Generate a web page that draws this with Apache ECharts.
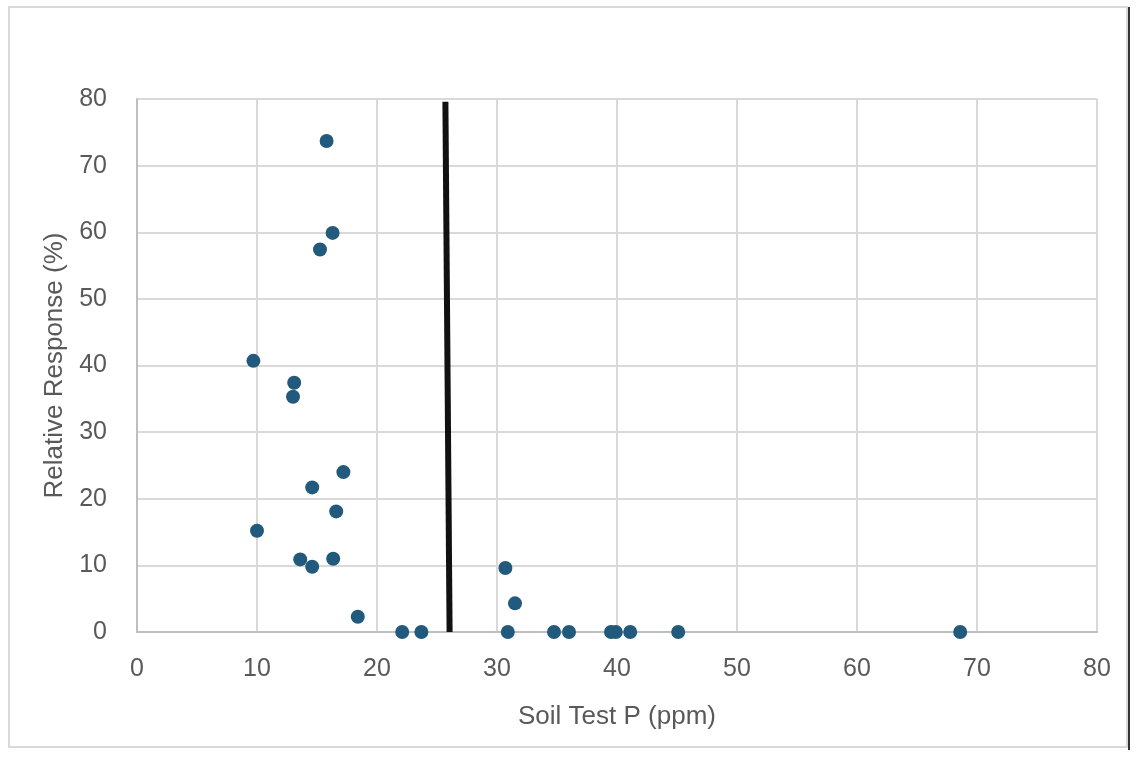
<!DOCTYPE html>
<html>
<head>
<meta charset="utf-8">
<script src="https://cdn.jsdelivr.net/npm/echarts@6/dist/echarts.min.js"></script>
<style>
  html, body { margin: 0; padding: 0; background: #fff; }
  #chart { width: 1140px; height: 759px; }
</style>
</head>
<body>
<div id="chart"></div>
<script>
// soil test P (ppm) vs relative response (%)
var soilP = [15.8, 16.3, 15.25, 9.7, 13.1, 13.0, 17.2, 14.6, 16.6, 10.0, 13.6, 14.6, 16.35, 18.4,
             22.1, 23.7, 30.7, 31.5, 30.9, 34.75, 36.0, 39.5, 39.9, 41.1, 45.1, 68.6];
var relResp = [73.7, 59.9, 57.4, 40.7, 37.4, 35.3, 24.0, 21.7, 18.1, 15.2, 10.9, 9.8, 11.0, 2.3,
               0, 0, 9.6, 4.3, 0, 0, 0, 0, 0, 0, 0, 0];

// critical level line (drawn by hand, slight lean)
var cutoffX = [25.7, 26.05];
var cutoffY = [79.6, 0];

var axisTicks = [0, 10, 20, 30, 40, 50, 60, 70, 80];

var points = [];
for (var i = 0; i < soilP.length; i++) {
    points.push([soilP[i], relResp[i]]);
}
var cutoff = [];
for (var j = 0; j < cutoffX.length; j++) {
    cutoff.push([cutoffX[j], cutoffY[j]]);
}

var chart = echarts.init(document.getElementById('chart'));

var textColor = '#595959';
var fontFam = '"Liberation Sans", Arial, sans-serif';

var option = {
    backgroundColor: '#fff',
    animation: false,
    grid: { left: 137, right: 43, top: 99, bottom: 127 },
    xAxis: {
        type: 'value',
        min: axisTicks[0],
        max: axisTicks[axisTicks.length - 1],
        interval: 10,
        name: 'Soil Test P (ppm)',
        nameLocation: 'middle',
        nameGap: 72,
        nameTextStyle: { color: textColor, fontSize: 26, fontFamily: fontFam },
        axisLine: { show: true, lineStyle: { color: '#bfbfbf', width: 2 } },
        axisTick: { show: false },
        axisLabel: { color: textColor, fontSize: 25, fontFamily: fontFam, margin: 25 },
        splitLine: { show: true, lineStyle: { color: '#d9d9d9', width: 2 } }
    },
    yAxis: {
        type: 'value',
        min: axisTicks[0],
        max: axisTicks[axisTicks.length - 1],
        interval: 10,
        name: 'Relative Response (%)',
        nameLocation: 'middle',
        nameGap: 69,
        nameTextStyle: { color: textColor, fontSize: 26, fontFamily: fontFam },
        axisLine: { show: true, lineStyle: { color: '#bfbfbf', width: 2 } },
        axisTick: { show: false },
        axisLabel: { color: textColor, fontSize: 25, fontFamily: fontFam, margin: 30 },
        splitLine: { show: true, lineStyle: { color: '#d9d9d9', width: 2 } }
    },
    series: [
        {
            name: 'cutoff',
            type: 'line',
            data: cutoff,
            symbol: 'none',
            silent: true,
            lineStyle: { color: '#111', width: 6 },
            z: 3
        },
        {
            name: 'response',
            type: 'scatter',
            data: points,
            symbolSize: 14,
            clip: false,
            itemStyle: { color: '#215a7c', opacity: 1 },
            z: 4
        }
    ],
    graphic: [
        {
            type: 'rect',
            shape: { x: 9, y: 7, width: 1118, height: 740 },
            style: { fill: 'none', stroke: '#d9d9d9', lineWidth: 2 },
            silent: true,
            z: -1
        },
        {
            type: 'line',
            shape: { x1: 1129, y1: 7, x2: 1129, y2: 750 },
            style: { stroke: '#333', lineWidth: 2 },
            silent: true
        }
    ]
};

chart.setOption(option);
</script>
</body>
</html>
